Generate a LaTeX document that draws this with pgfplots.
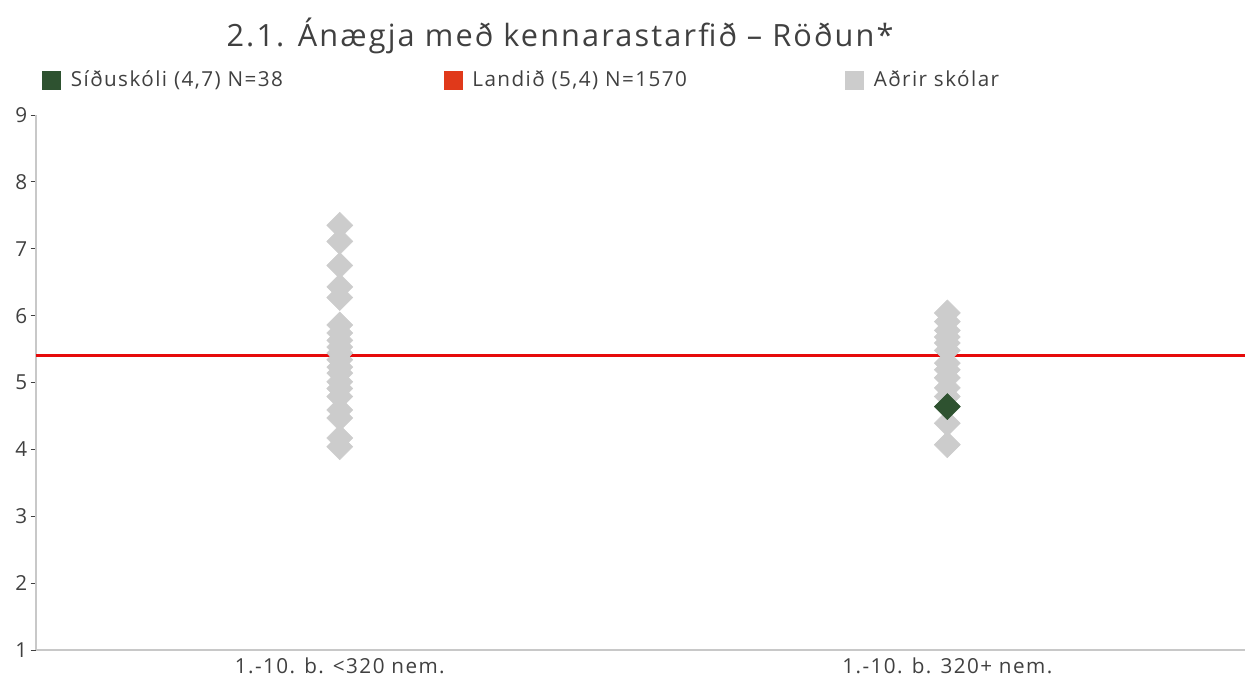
\documentclass[border=0pt]{standalone}
\usepackage{pgfplots}
\pgfplotsset{compat=1.18}
\usepackage{fontspec}
\setmainfont{Open Sans}[LetterSpace=7]
\definecolor{txt}{RGB}{64,64,64}
\definecolor{axgray}{RGB}{200,200,200}
\definecolor{ptgray}{RGB}{204,204,204}
\definecolor{sgreen}{RGB}{46,82,48}
\definecolor{legred}{RGB}{224,57,26}
\definecolor{linered}{RGB}{230,10,10}
\begin{document}
\begin{tikzpicture}
\useasboundingbox (0,0) rectangle (933.75pt,507.75pt);
\node[text=txt, font=\fontsize{23}{27}\selectfont, anchor=base] at (420pt,473pt) {2.1. Ánægja með kennarastarfið – Röðun*};
\begin{axis}[
  at={(27pt,20.25pt)}, anchor=south west,
  scale only axis, width=906.75pt, height=401.25pt,
  xmin=-0.5, xmax=1.49, ymin=1, ymax=9,
  axis x line=bottom, axis y line=left,
  axis line style={-, draw=axgray, line width=1.5pt},
  xtick={0,1}, xticklabels={1.-10. b. <320 nem., 1.-10. b. 320+ nem.},
  xtick style={draw=none},
  ytick={1,...,9},
  ytick style={draw=txt, line width=0.6pt},
  major tick length=4pt, tick align=outside,
  /pgf/number format/assume math mode=true,
  ticklabel style={font=\fontsize{15.5}{18}\selectfont, text=txt},
  yticklabel style={xshift=1pt},
  xticklabel style={yshift=2pt},
  clip=false,
  legend columns=3,
  legend style={draw=none, fill=none, at={(0.005,1.0654)}, anchor=west,
    inner sep=0pt, font=\fontsize{15.5}{18}\selectfont, text=txt,
    nodes={inner sep=0pt},
    /tikz/every odd column/.append style={column sep=7.5pt},
    /tikz/every even column/.append style={column sep=0pt}},
  legend cell align=left,
]
\addlegendimage{legend image code/.code={\fill[sgreen] (0pt,-6.75pt) rectangle (13.5pt,6.75pt);}}
\addlegendentry{\makebox[279.75pt][l]{Síðuskóli (4,7) N=38}}
\addlegendimage{legend image code/.code={\fill[legred] (0pt,-6.75pt) rectangle (13.5pt,6.75pt);}}
\addlegendentry{\makebox[279.75pt][l]{Landið (5,4) N=1570}}
\addlegendimage{legend image code/.code={\fill[ptgray] (0pt,-6.75pt) rectangle (13.5pt,6.75pt);}}
\addlegendentry{Aðrir skólar}

\addplot[forget plot, linered, line width=2.2pt, mark=none] coordinates {(-0.5,5.41) (1.49,5.41)};

\addplot[forget plot, only marks, mark=square*, mark size=6.9pt, color=ptgray,
  mark options={rotate=45, draw=none, fill=ptgray}] coordinates {
(0,7.35) (0,7.11) (0,6.75) (0,6.43) (0,6.27) (0,5.86) (0,5.74) (0,5.63) (0,5.53)
(0,5.44) (0,5.34) (0,5.23) (0,5.14) (0,5.01) (0,4.91) (0,4.79) (0,4.59) (0,4.47)
(0,4.17) (0,4.04)
(1,6.04) (1,5.91) (1,5.78) (1,5.68) (1,5.59) (1,5.48) (1,5.29) (1,5.19) (1,5.07)
(1,4.92) (1,4.79) (1,4.39) (1,4.07)
};
\addplot[forget plot, only marks, mark=square*, mark size=6.9pt, color=sgreen,
  mark options={rotate=45, draw=none, fill=sgreen}] coordinates {(1,4.64)};
\end{axis}
\end{tikzpicture}
\end{document}
